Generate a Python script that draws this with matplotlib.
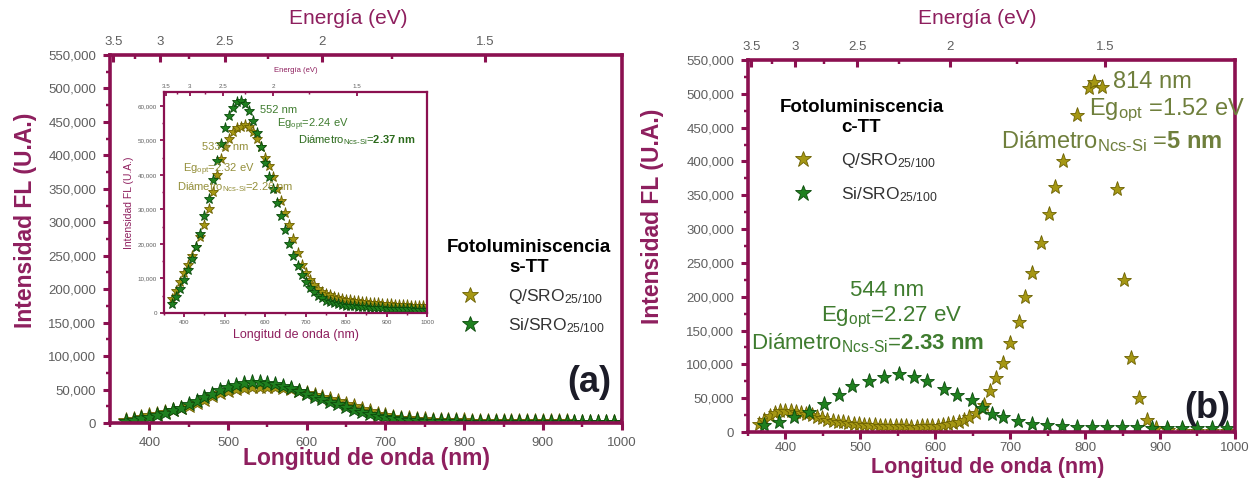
import numpy as np
import matplotlib
matplotlib.use("Agg")
import matplotlib.pyplot as plt
from matplotlib.lines import Line2D

plt.rcParams["font.family"] = ["Liberation Sans", "DejaVu Sans"]
plt.rcParams["mathtext.fontset"] = "custom"
plt.rcParams["mathtext.rm"] = "Liberation Sans"
plt.rcParams["mathtext.it"] = "Liberation Sans:italic"
plt.rcParams["mathtext.bf"] = "Liberation Sans:bold"

# ---- data ----
# s-TT (panel a and its inset)
wl_a = [370, 380, 390, 400, 410, 420, 430, 440, 450, 460, 470, 480, 490, 500, 510, 520,
        530, 540, 550, 560, 570, 580, 590, 600, 610, 620, 630, 640, 650, 660, 670, 680,
        690, 700, 710, 720, 730, 740, 750, 760, 770, 780, 790, 800, 810, 820, 830, 840,
        850, 860, 870, 880, 890, 900, 910, 920, 930, 940, 950, 960, 970, 980, 990, 1000]
q_sro_a = [4000, 6500, 9000, 11500, 14000, 16500, 19000, 22000, 25500, 30000, 35000, 40000,
           44500, 48000, 50500, 52500, 53500, 54000, 54500, 54000, 52500, 50500, 48000, 45000,
           42500, 39500, 36000, 32500, 29000, 25500, 21500, 17500, 14000, 11500, 9500, 8000,
           7000, 6200, 5600, 5100, 4700, 4400, 4100, 3900, 3700, 3500, 3400, 3200,
           3100, 3000, 2900, 2800, 2700, 2600, 2500, 2400, 2300, 2250, 2200, 2150, 2100, 2050,
           2000, 2000]
si_sro_a = [2500, 4500, 7000, 9500, 12500, 15500, 19000, 23000, 28000, 33000, 38500, 44000,
            49000, 53500, 57000, 59500, 61000, 61500, 60500, 58500, 55500, 52000, 48000, 43500,
            39500, 36000, 32000, 28000, 24000, 20000, 16500, 13500, 11000, 9000, 7300, 6000,
            5000, 4200, 3600, 3200, 2800, 2500, 2300, 2100, 2000, 1900, 1800, 1700,
            1600, 1500, 1450, 1400, 1350, 1300, 1250, 1200, 1150, 1100, 1100, 1050, 1000, 1000,
            950, 900]

# c-TT (panel b)
wl_q_b = [365, 372, 379, 386, 393, 400, 407, 414, 421, 428, 435, 442, 449, 456, 463, 470,
          477, 484, 491, 498, 505, 512, 519, 526, 533, 540, 547, 554, 561, 568, 575, 582,
          589, 596, 603, 610, 617, 624, 631, 638, 645, 654, 665, 673, 681, 691, 700, 712,
          720, 729, 741, 752, 760, 771, 789, 805, 812, 823, 843, 852, 861, 872, 883, 895,
          910, 930, 950, 970, 990]
q_sro_b = [12000, 18000, 24000, 28000, 30500, 31500, 31000, 30000, 28500, 26500, 24500, 22500,
           20500, 18500, 17000, 15500, 14500, 13500, 12500, 11500, 11000, 10500, 10000, 9500,
           9000, 8800, 8500, 8300, 8200, 8000, 8000, 8200, 8500, 9000, 9500, 10500,
           11500, 13000, 15000, 18000, 22000, 28000, 40000, 60000, 80000, 102000, 131000, 163000,
           200000, 235000, 279000, 323000, 362000, 400000, 469000, 508000, 518000, 510000,
           360000, 225000, 109000, 50000, 18000, 6000, 3000, 2000, 1500, 1200, 1000]
wl_si_b = [371, 392, 411, 431, 451, 471, 489, 511, 531, 551, 571, 589, 611, 629, 649, 663,
           676, 691, 711, 729, 749, 769, 789, 809, 829, 849, 869, 889, 909, 929, 949, 969, 989]
si_sro_b = [9800, 14700, 22000, 30000, 42000, 54000, 68600, 76000, 81000, 86000, 81000, 76000,
            63800, 54000, 46600, 34800, 27000, 22000, 17000, 12000, 10000, 8500, 8000, 7500,
            7000, 7000, 6800, 6500, 6500, 6300, 6200, 6000, 6000]

y_ticks_main = [0, 50000, 100000, 150000, 200000, 250000, 300000, 350000, 400000, 450000,
                500000, 550000]
y_ticks_inset = [0, 10000, 20000, 30000, 40000, 50000, 60000]
x_ticks = [400, 500, 600, 700, 800, 900, 1000]
energy_ticks = [3.5, 3.0, 2.5, 2.0, 1.5]
energy_labels = ["3.5", "3", "2.5", "2", "1.5"]
energy_minor = [3.25, 2.75, 2.25, 1.75]

MAROON = "#8b1050"
LABEL = "#8e1f5e"
TICKGRAY = "#5e5e5e"
OLIVE, OLIVE_EDGE = "#a59714", "#6b6000"
GREEN, GREEN_EDGE = "#1f801f", "#0b4a0b"
TXT_GREEN, TXT_GREEN_B = "#3f7c2f", "#2b6a1b"
TXT_OLIVE = "#6f7f3c"
TXT_OLIVE_IN = "#948f3a"


def style_axes(ax, xlim, ylim, yticks, yminor, spine_w, tick_fs, tlen, twid, pad, xpad=None):
    ax.set_xlim(*xlim)
    ax.set_ylim(*ylim)
    ax.set_xticks(x_ticks)
    ax.set_xticklabels([str(v) for v in x_ticks])
    ax.set_xticks([v + 50 for v in x_ticks[:-1]] + [350], minor=True)
    ax.set_yticks(yticks)
    ax.set_yticklabels([f"{v:,}" for v in yticks])
    ax.set_yticks([v + yminor for v in yticks[:-1]], minor=True)
    for s in ax.spines.values():
        s.set_color(MAROON)
        s.set_linewidth(spine_w)
    ax.tick_params(which="both", direction="out", color=MAROON, top=False, right=False,
                   labelcolor=TICKGRAY, labelsize=tick_fs, pad=pad)
    if xpad is not None:
        ax.tick_params(axis="x", which="both", pad=xpad)
    ax.tick_params(which="major", length=tlen, width=twid)
    ax.tick_params(which="minor", length=tlen * 0.6, width=twid * 0.8)


def energy_axis(ax, fs, tlen, twid, pad):
    top = ax.twiny()
    top.set_xlim(ax.get_xlim())
    top.set_xticks([1240 / e for e in energy_ticks])
    top.set_xticklabels(energy_labels)
    top.set_xticks([1240 / e for e in energy_minor], minor=True)
    for s in top.spines.values():
        s.set_visible(False)
    top.tick_params(which="both", direction="in", color=MAROON, labelcolor=TICKGRAY,
                    labelsize=fs, pad=pad)
    top.tick_params(which="major", length=tlen, width=twid)
    top.tick_params(which="minor", length=tlen * 0.6, width=twid * 0.8)
    return top


def stars(ax, x, y, face, edge, ms):
    ax.plot(x, y, ls="none", marker="*", ms=ms, mfc=face, mec=edge, mew=0.6)


def legend(ax, title, anchor, spacing):
    handles = [Line2D([], [], ls="none", marker="*", ms=12, mfc=OLIVE, mec=OLIVE_EDGE, mew=0.6),
               Line2D([], [], ls="none", marker="*", ms=12, mfc=GREEN, mec=GREEN_EDGE, mew=0.6)]
    labels = [r"Q/SRO$_{\mathrm{25/100}}$", r"Si/SRO$_{\mathrm{25/100}}$"]
    leg = ax.legend(handles, labels, title=title, loc="upper left", bbox_to_anchor=anchor,
                    frameon=False, fontsize=12.5, handletextpad=1.2, labelspacing=spacing,
                    borderaxespad=0)
    leg.get_title().set_fontweight("bold")
    leg.get_title().set_fontsize(13.5)
    leg.get_title().set_multialignment("center")
    leg.get_title().set_linespacing(1.3)
    for t in leg.get_texts():
        t.set_color("#333333")
    return leg


fig = plt.figure(figsize=(12.54, 4.78), dpi=100)

# ---------------- panel (a) ----------------
ax_a = fig.add_axes([0.0877, 0.115, 0.408, 0.770])
style_axes(ax_a, (350, 1000), (0, 550000), y_ticks_main, 25000, 2.6, 9.5, 5, 2.2, 5)
stars(ax_a, wl_a, q_sro_a, OLIVE, OLIVE_EDGE, 11.5)
stars(ax_a, wl_a, si_sro_a, GREEN, GREEN_EDGE, 11.5)
energy_axis(ax_a, 9.5, 5, 2.2, 5)
legend(ax_a, "Fotoluminiscencia\ns-TT", (0.645, 0.52), 0.6)
ax_a.text(0.98, 0.11, "(a)", transform=ax_a.transAxes, ha="right", va="center",
          fontsize=26, fontweight="bold", color="#1c1c28")

# inset
ax_in = fig.add_axes([0.1308, 0.3452, 0.2097, 0.4623])
style_axes(ax_in, (355, 1000), (0, 64000), y_ticks_inset, 5000, 1.6, 4.5, 3, 1.3, 2)
stars(ax_in, wl_a, q_sro_a, OLIVE, OLIVE_EDGE, 8)
stars(ax_in, wl_a, si_sro_a, GREEN, GREEN_EDGE, 8)
energy_axis(ax_in, 4.5, 3, 1.3, 2)
ax_in.set_xlabel("Longitud de onda (nm)", fontsize=9, color=LABEL, labelpad=3)
ax_in.set_ylabel("Intensidad FL (U.A.)", fontsize=7.5, color=LABEL, labelpad=3)
ax_in.text(0.5, 1.08, "Energía (eV)", transform=ax_in.transAxes, ha="center",
           va="bottom", fontsize=5.5, color=LABEL)
fs_in = 8
ax_in.text(0.365, 0.905, "552 nm", transform=ax_in.transAxes, fontsize=fs_in, color=TXT_GREEN)
ax_in.text(0.43, 0.842, r"Eg$_{\mathrm{opt}}$=2.24 eV", transform=ax_in.transAxes,
           fontsize=fs_in, color=TXT_GREEN)
ax_in.text(0.51, 0.77, r"Diámetro$_{\mathrm{Ncs\text{-}Si}}$=$\mathbf{2.37\ nm}$",
           transform=ax_in.transAxes, fontsize=fs_in, color=TXT_GREEN_B)
ax_in.text(0.144, 0.738, "533.4 nm", transform=ax_in.transAxes, fontsize=fs_in, color=TXT_OLIVE_IN)
ax_in.text(0.072, 0.638, r"Eg$_{\mathrm{opt}}$=2.32 eV", transform=ax_in.transAxes,
           fontsize=fs_in, color=TXT_OLIVE_IN)
ax_in.text(0.049, 0.557, r"Diámetro$_{\mathrm{Ncs\text{-}Si}}$=2.26 nm",
           transform=ax_in.transAxes, fontsize=fs_in, color=TXT_OLIVE_IN)

# ---------------- panel (b) ----------------
ax_b = fig.add_axes([0.5965, 0.0962, 0.3883, 0.7783])
style_axes(ax_b, (350, 1000), (0, 550000), y_ticks_main, 25000, 2.6, 9.5, 5, 2.2, 5, xpad=2.5)
stars(ax_b, wl_q_b, q_sro_b, OLIVE, OLIVE_EDGE, 11)
stars(ax_b, wl_si_b, si_sro_b, GREEN, GREEN_EDGE, 11)
energy_axis(ax_b, 9.5, 5, 2.2, 5)
legend(ax_b, "Fotoluminiscencia\nc-TT", (0.05, 0.915), 0.85)
ax_b.text(0.99, 0.062, "(b)", transform=ax_b.transAxes, ha="right", va="center",
          fontsize=26, fontweight="bold", color="#1c1c28")

fs_b = 16
ax_b.text(0.285, 0.366, "544 nm", transform=ax_b.transAxes, ha="center", va="baseline",
          fontsize=fs_b, color=TXT_GREEN)
ax_b.text(0.15, 0.298, r"Eg$_{\mathrm{opt}}$=2.27 eV", transform=ax_b.transAxes,
          va="baseline", fontsize=fs_b, color=TXT_GREEN)
ax_b.text(0.006, 0.222, r"Diámetro$_{\mathrm{Ncs\text{-}Si}}$=$\mathbf{2.33\ nm}$",
          transform=ax_b.transAxes, va="baseline", fontsize=fs_b, color=TXT_GREEN)
fs_b2 = 17
ax_b.text(0.75, 0.925, "814 nm", transform=ax_b.transAxes, va="baseline",
          fontsize=fs_b2, color=TXT_OLIVE)
ax_b.text(0.70, 0.852, r"Eg$_{\mathrm{opt}}$ =1.52 eV", transform=ax_b.transAxes,
          va="baseline", fontsize=fs_b2, color=TXT_OLIVE)
ax_b.text(0.52, 0.763, r"Diámetro$_{\mathrm{Ncs\text{-}Si}}$ =$\mathbf{5\ nm}$",
          transform=ax_b.transAxes, va="baseline", fontsize=fs_b2, color=TXT_OLIVE)

# ---------------- shared labels ----------------
for x, y in [(0.278, 0.962), (0.779, 0.962)]:
    fig.text(x, y, "Energía (eV)", ha="center", va="center", fontsize=15, color=LABEL)
for x, y in [(0.02, 0.54), (0.52, 0.548)]:
    fig.text(x, y, "Intensidad FL (U.A.)", ha="center", va="center", rotation=90,
             fontsize=16.5, fontweight="bold", color=LABEL)
fig.text(0.292, 0.04, "Longitud de onda (nm)", ha="center", va="center", fontsize=16.5,
         fontweight="bold", color=LABEL)
fig.text(0.788, 0.021, "Longitud de onda (nm)", ha="center", va="center", fontsize=15.5,
         fontweight="bold", color=LABEL)

fig.savefig("out.png", dpi=100)
